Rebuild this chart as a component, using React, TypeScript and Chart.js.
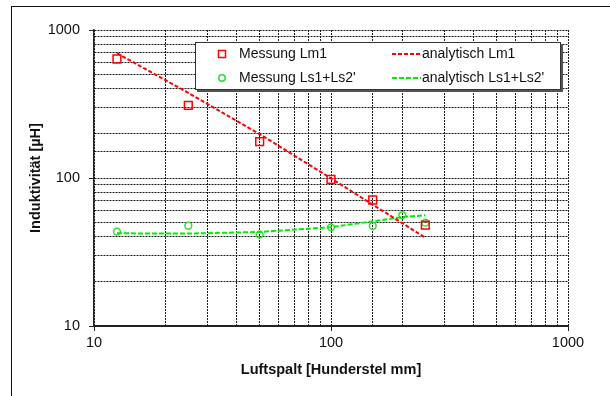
import React, { useEffect, useRef } from "react";
import { Chart, registerables } from "chart.js";

Chart.register(...registerables);

// Luftspalt [Hunderstel mm]
const gapLm1Measured = [12.5, 25, 50, 100, 150, 250];
const lm1Measured = [637, 310, 176, 98, 71, 48];
const gapLsMeasured = [12.5, 25, 50, 100, 150, 200, 250];
const lsMeasured = [43.4, 47.6, 41.4, 46.4, 47.4, 56.2, 49.9];
const gapAnalytic = [12.5, 25, 50, 100, 150, 200, 250];
const lm1Analytic = [697, 376, 198, 99.5, 66, 49.5, 39.5];
const lsAnalytic = [42.3, 42.1, 43.2, 46.5, 51, 54.5, 56];

const seriesLabels = ["Messung Lm1", "Messung Ls1+Ls2'", "analytisch Lm1", "analytisch Ls1+Ls2'"];
const xTitle = "Luftspalt [Hunderstel mm]";
const yTitle = "Induktivität [µH]";
const axisMin = 10;
const axisMax = 1000;

const RED = "#ff0000";
const GREEN_MARK = "#33dd33";
const GREEN_LINE = "#00ee00";
const FONT = "'Liberation Sans', Arial, sans-serif";

const toPts = (xs: number[], ys: number[]) => xs.map((x, i) => ({ x, y: ys[i] }));
const isPow10 = (v: number) => Math.abs(Math.log10(v) - Math.round(Math.log10(v))) < 1e-9;

const framePlugin = {
  id: "frame",
  beforeDraw(chart: any) {
    const ctx = chart.ctx;
    ctx.save();
    ctx.fillStyle = "#fff";
    ctx.fillRect(0, 0, chart.width, chart.height);
    ctx.strokeStyle = "#111";
    ctx.lineWidth = 1;
    ctx.strokeRect(11.5, 6.5, 800, 600);
    ctx.restore();
  },
};

const legendPlugin = {
  id: "boxLegend",
  afterDraw(chart: any) {
    const ctx = chart.ctx;
    const x0 = 195, y0 = 42, x1 = 561, y1 = 90;
    ctx.save();
    // shadow
    ctx.fillStyle = "#555";
    ctx.fillRect(x0 + 2, y0 + 2, x1 - x0, y1 - y0);
    ctx.fillStyle = "#fff";
    ctx.fillRect(x0, y0, x1 - x0, y1 - y0);
    ctx.strokeStyle = "#333";
    ctx.lineWidth = 1;
    ctx.strokeRect(x0 + 0.5, y0 + 0.5, x1 - x0 - 1, y1 - y0 - 1);

    const rows = [54, 78];
    // markers
    ctx.lineWidth = 1.5;
    ctx.strokeStyle = RED;
    ctx.strokeRect(218.5, rows[0] - 3.5, 7, 7);
    ctx.strokeStyle = GREEN_MARK;
    ctx.beginPath();
    ctx.arc(222, rows[1], 3.2, 0, Math.PI * 2);
    ctx.stroke();
    // lines
    ctx.lineWidth = 2;
    ctx.setLineDash([4, 2]);
    ctx.strokeStyle = RED;
    ctx.beginPath();
    ctx.moveTo(392, rows[0]);
    ctx.lineTo(421, rows[0]);
    ctx.stroke();
    ctx.setLineDash([5, 2]);
    ctx.strokeStyle = GREEN_LINE;
    ctx.beginPath();
    ctx.moveTo(392, rows[1]);
    ctx.lineTo(421, rows[1]);
    ctx.stroke();
    ctx.setLineDash([]);

    ctx.fillStyle = "#111";
    ctx.font = `14px ${FONT}`;
    ctx.textBaseline = "middle";
    ctx.textAlign = "left";
    ctx.fillText(seriesLabels[0], 239, rows[0]);
    ctx.fillText(seriesLabels[1], 239, rows[1]);
    ctx.fillText(seriesLabels[2], 422, rows[0]);
    ctx.fillText(seriesLabels[3], 422, rows[1]);
    ctx.restore();
  },
};

export default function App() {
  const ref = useRef<HTMLCanvasElement | null>(null);

  useEffect(() => {
    if (!ref.current) return;
    const gridCommon = {
      color: "#1a1a1a",
      lineWidth: 1,
      tickLength: 5,
      tickWidth: 1,
      tickColor: (c: any) => (c.tick && isPow10(c.tick.value) ? "#222" : "rgba(0,0,0,0)"),
    };
    const chart = new Chart(ref.current, {
      type: "scatter",
      data: {
        datasets: [
          {
            label: seriesLabels[2],
            data: toPts(gapAnalytic, lm1Analytic),
            showLine: true,
            borderColor: RED,
            borderWidth: 2,
            borderDash: [4, 2],
            pointRadius: 0,
            tension: 0,
          },
          {
            label: seriesLabels[3],
            data: toPts(gapAnalytic, lsAnalytic),
            showLine: true,
            borderColor: GREEN_LINE,
            borderWidth: 2,
            borderDash: [5, 2],
            pointRadius: 0,
            tension: 0,
          },
          {
            label: seriesLabels[0],
            data: toPts(gapLm1Measured, lm1Measured),
            showLine: false,
            pointStyle: "rect",
            pointRadius: 5.5,
            pointBorderColor: RED,
            pointBackgroundColor: "rgba(0,0,0,0)",
            pointBorderWidth: 1.5,
          },
          {
            label: seriesLabels[1],
            data: toPts(gapLsMeasured, lsMeasured),
            showLine: false,
            pointStyle: "circle",
            pointRadius: 3.4,
            pointBorderColor: GREEN_MARK,
            pointBackgroundColor: "rgba(0,0,0,0)",
            pointBorderWidth: 1.5,
          },
        ],
      },
      options: {
        responsive: false,
        animation: false,
        devicePixelRatio: 1,
        layout: { padding: { left: 0, top: 30, right: 42, bottom: 0 } },
        plugins: { legend: { display: false }, tooltip: { enabled: false } },
        scales: {
          x: {
            type: "logarithmic",
            min: axisMin,
            max: axisMax,
            afterFit: (s: any) => {
              s.height = 70;
            },
            grid: gridCommon,
            border: { display: true, color: "#222", width: 2, dash: [2, 1] },
            ticks: {
              autoSkip: false,
              maxRotation: 0,
              padding: 3,
              color: "#111",
              font: { family: FONT, size: 14.5 },
              callback: (v: any) => (isPow10(Number(v)) ? String(Number(v)) : ""),
            },
            title: {
              display: true,
              text: xTitle,
              color: "#111",
              font: { family: FONT, size: 14.5, weight: "bold" },
              padding: { top: 0, bottom: 17 },
            },
          },
          y: {
            type: "logarithmic",
            min: axisMin,
            max: axisMax,
            afterFit: (s: any) => {
              s.width = 94;
            },
            grid: gridCommon,
            border: { display: true, color: "#222", width: 1.5, dash: [2, 1] },
            ticks: {
              autoSkip: false,
              padding: 9,
              color: "#111",
              font: { family: FONT, size: 14.5 },
              callback: (v: any) => (isPow10(Number(v)) ? String(Number(v)) : ""),
            },
            title: {
              display: true,
              text: yTitle,
              color: "#111",
              font: { family: FONT, size: 14.5, weight: "bold" },
              padding: { top: 27, bottom: 0 },
            },
          },
        },
      },
      plugins: [framePlugin, legendPlugin],
    } as any);
    return () => chart.destroy();
  }, []);

  return (
    <div style={{ position: "absolute", left: 0, top: 0, width: 610, height: 396 }}>
      <canvas ref={ref} width={610} height={396} style={{ display: "block", width: 610, height: 396 }} />
    </div>
  );
}
